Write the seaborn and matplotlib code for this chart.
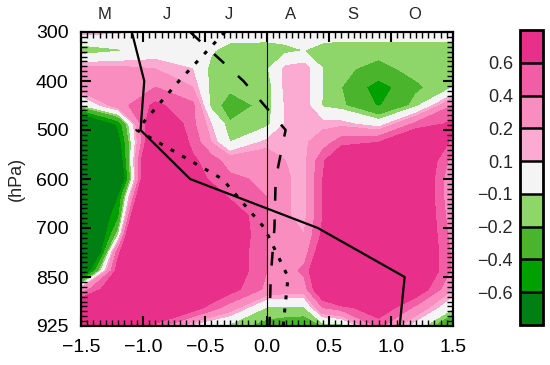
import numpy as np
import matplotlib
matplotlib.use("Agg")
import matplotlib.pyplot as plt
from matplotlib.ticker import MultipleLocator
import seaborn as sns

# pressure levels (equally spaced on the y axis, 300 at the top)
levels_hpa = ["300", "400", "500", "600", "700", "850", "925"]
months = ["M", "J", "J", "A", "S", "O"]
month_pos = [-1.31, -0.81, -0.31, 0.19, 0.69, 1.19]

# anomaly field: columns at x_nodes,
# rows from 300 hPa (top) down to 925 hPa
x_nodes = [-1.5, -1.2, -0.9, -0.6, -0.45, -0.3, 0.0, 0.15, 0.3, 0.45, 0.6, 0.9, 1.2, 1.5]
anom = [
    [0.15, 0.12, 0.0, 0.0, 0.0, 0.0, -0.02, 0.0, 0.0, -0.03, -0.05, -0.05, -0.05, -0.05],
    [-0.2, -0.12, 0.0, 0.0, -0.08, -0.17, -0.17, -0.15, -0.1, -0.15, -0.15, -0.15, -0.15, -0.15],
    [0.25, 0.25, 0.2, 0.1, -0.15, -0.17, -0.12, 0.15, 0.19, -0.1, -0.17, -0.25, -0.15, -0.15],
    [0.3, 0.3, 0.4, 0.2, -0.15, -0.18, -0.19, 0.15, 0.19, -0.1, -0.2, -0.5, -0.23, -0.1],
    [-0.12, 0.3, 0.65, 0.45, -0.15, -0.25, -0.17, 0.12, 0.19, -0.12, -0.17, -0.42, -0.15, 0.4],
    [-1.2, -0.55, 1.03, 0.45, 0.1, -0.19, -0.15, 0.12, 0.19, 0.15, 0.15, 0.0, 0.45, 0.65],
    [-1.2, -0.75, 1.1, 0.54, 0.2, -0.1, 0.15, 0.15, 0.17, 0.3, 0.5, 0.6, 1.0, 0.55],
    [-1.2, -0.93, 1.54, 0.64, 0.5, 0.3, 0.3, 0.2, 0.15, 0.55, 1.0, 1.0, 1.0, 0.3],
    [-1.2, -1.13, 1.66, 0.8, 0.55, 0.45, 0.35, 0.22, 0.15, 0.6, 1.1, 1.0, 1.0, 0.2],
    [-1.2, -0.6, 1.85, 1.0, 0.8, 0.58, 0.4, 0.22, 0.15, 0.6, 1.1, 1.0, 1.0, 0.2],
    [-1.2, -0.46, 2.57, 1.0, 1.0, 0.8, 0.4, 0.22, 0.15, 0.6, 1.1, 1.0, 1.0, 0.25],
    [-1.6, -0.13, 3.2, 1.0, 1.0, 0.85, 0.4, 0.22, 0.2, 0.65, 1.2, 1.0, 1.0, 0.3],
    [-2.0, 0.55, 1.5, 1.0, 1.0, 0.8, 0.4, 0.25, 0.3, 0.8, 1.5, 1.0, 1.0, 0.35],
    [-1.1, 0.75, 1.5, 1.0, 1.0, 0.8, 0.4, 0.3, 0.45, 1.0, 2.0, 1.0, 1.0, 0.35],
    [0.25, 0.9, 1.5, 1.0, 0.9, 0.7, 0.35, 0.3, 0.3, 0.9, 1.5, 1.0, 0.8, 0.2],
    [1.0, 1.0, 1.2, 0.74, 0.5, 0.3, -0.12, -0.12, -0.12, 0.4, 0.5, 0.8, 0.35, -0.08],
    [0.9, 0.8, 0.5, 0.05, -0.1, -0.15, -0.25, -0.28, -0.3, -0.2, -0.18, 0.45, 0.0, -0.45],
]

# profiles, one value per pressure level
solid_x = [-1.09, -0.99, -1.02, -0.62, 0.41, 1.11, 1.07]
dotted_x = [-0.34, -0.71, -1.05, -0.36, -0.02, 0.17, 0.13]
dashed_x = [-0.62, -0.19, 0.15, 0.07, 0.06, 0.03, 0.02]

bounds = [-10, -0.6, -0.4, -0.2, -0.1, 0.1, 0.2, 0.4, 0.6, 10]
colours = ["#007f12", "#00a000", "#4ab52c", "#8ed66a", "#f4f4f4",
           "#fbaad2", "#f98dc0", "#f25ea5", "#e8308b"]
cbar_labels = ["\u22120.6", "\u22120.4", "\u22120.2", "\u22120.1",
               "0.1", "0.2", "0.4", "0.6"]

sns.set_theme(style="ticks")
plt.rcParams["font.family"] = ["Liberation Sans", "DejaVu Sans"]

rect = [81 / 550, 39 / 365, 372 / 550, 294 / 365]
fig = plt.figure(figsize=(5.5, 3.65), dpi=100)
ax = fig.add_axes(rect)

y_nodes = np.linspace(0, len(levels_hpa) - 1, len(anom))
cf = ax.contourf(x_nodes, y_nodes, np.array(anom), levels=bounds,
                 colors=colours, zorder=0)

ax.axvline(0, color="black", lw=0.8)

lev_pos = np.arange(len(levels_hpa))
sns.lineplot(x=solid_x, y=lev_pos, sort=False, estimator=None,
             color="black", lw=1.6, ax=ax)
sns.lineplot(x=dotted_x, y=lev_pos, sort=False, estimator=None,
             color="black", lw=2.2, linestyle=(0, (1.3, 3.0)), ax=ax)
sns.lineplot(x=dashed_x, y=lev_pos, sort=False, estimator=None,
             color="black", lw=1.8, linestyle=(0, (5.5, 7.5)), ax=ax)

xlim = (-1.5, 1.5)
ylim = (len(levels_hpa) - 1, 0)
ax.set_xlim(*xlim)
ax.set_ylim(*ylim)
ax.set_xlabel("")
ax.set_ylabel("(hPa)", fontsize=13, labelpad=8)

# month names along the top
for m, p in zip(months, month_pos):
    ax.text(p, 1.035, m, transform=ax.get_xaxis_transform(),
            ha="center", va="bottom", fontsize=12)

xt = [-1.5, -1.0, -0.5, 0.0, 0.5, 1.0, 1.5]
ax.set_xticks(xt)
ax.set_xticklabels([f"{v:.1f}".replace("-", "\u2212") for v in xt])
ax.set_yticks(lev_pos)
ax.set_yticklabels(levels_hpa)
ax.tick_params(which="both", length=0, colors="black", labelsize=14, pad=9)
for s in ax.spines.values():
    s.set_linewidth(1.5)
    s.set_color("black")

# transparent overlay carrying the inward tick marks
tax = fig.add_axes(rect, facecolor="none")
tax.set_zorder(ax.get_zorder() + 1)
tax.set_xlim(*xlim)
tax.set_ylim(*ylim)
tax.set_xticks(xt)
tax.set_yticks(lev_pos)
tax.xaxis.set_minor_locator(MultipleLocator(0.05))
tax.yaxis.set_minor_locator(MultipleLocator(0.1))
tax.tick_params(which="both", direction="in", top=True, right=True,
                bottom=True, left=True, colors="black",
                labelbottom=False, labelleft=False)
tax.tick_params(which="major", length=7, width=1.5)
tax.tick_params(which="minor", length=4, width=1.0)
for s in tax.spines.values():
    s.set_linewidth(1.5)
    s.set_color("black")

cax = fig.add_axes([520 / 550, 40 / 365, 23 / 550, 295 / 365])
cb = fig.colorbar(cf, cax=cax, drawedges=True)
cb.set_ticks(bounds[1:-1])
cb.set_ticklabels(cbar_labels)
cax.yaxis.set_ticks_position("left")
cax.tick_params(length=0, labelsize=13, pad=5)
cb.outline.set_linewidth(2)
cb.outline.set_edgecolor("black")
cb.dividers.set_color("black")
cb.dividers.set_linewidth(1.8)

fig.savefig("out.png", dpi=100)
